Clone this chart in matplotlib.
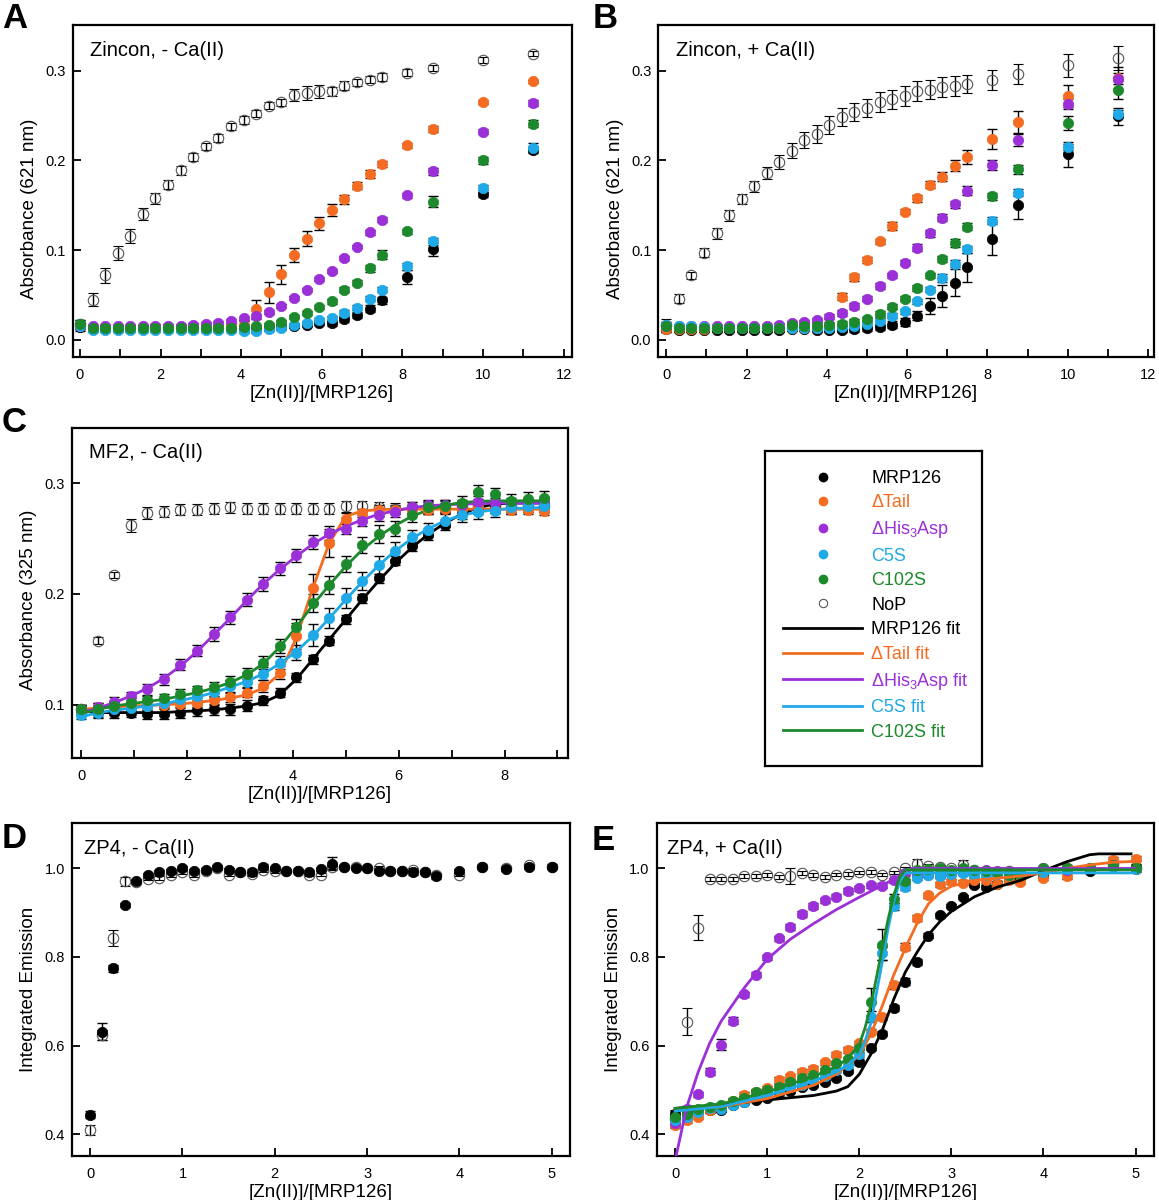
import matplotlib
matplotlib.use('Agg')
import matplotlib.pyplot as plt
from matplotlib.lines import Line2D
from matplotlib.ticker import MultipleLocator, FormatStrFormatter

plt.rcParams['font.family'] = ['Liberation Sans', 'DejaVu Sans']
plt.rcParams['mathtext.fontset'] = 'custom'
plt.rcParams['mathtext.rm'] = 'Liberation Sans'

# ---------------- data ----------------
x_zincon = [0, 0.3125, 0.625, 0.9375, 1.25, 1.5625, 1.875, 2.1875, 2.5, 2.8125, 3.125, 3.4375, 3.75,
            4.0625, 4.375, 4.6875, 5.0, 5.3125, 5.625, 5.9375, 6.25, 6.5625, 6.875, 7.1875, 7.5,
            8.125, 8.75, 10.0, 11.25]
x_mf2 = [0, 0.3125, 0.625, 0.9375, 1.25, 1.5625, 1.875, 2.1875, 2.5, 2.8125, 3.125, 3.4375, 3.75,
         4.0625, 4.375, 4.6875, 5.0, 5.3125, 5.625, 5.9375, 6.25, 6.5625, 6.875, 7.1875, 7.5,
         7.8125, 8.125, 8.4375, 8.75]
x_zp4 = [0, 0.125, 0.25, 0.375, 0.5, 0.625, 0.75, 0.875, 1.0, 1.125, 1.25, 1.375, 1.5, 1.625, 1.75,
         1.875, 2.0, 2.125, 2.25, 2.375, 2.5, 2.625, 2.75, 2.875, 3.0, 3.125, 3.25, 3.375, 3.5,
         3.625, 3.75, 4.0, 4.25, 4.5, 4.75, 5.0]

# panel A: Zincon, - Ca(II)
A_nop = [0.018, 0.045, 0.072, 0.097, 0.116, 0.140, 0.158, 0.173, 0.189, 0.204, 0.216, 0.225, 0.238, 0.245,
         0.252, 0.261, 0.265, 0.273, 0.275, 0.277, 0.277, 0.283, 0.287, 0.290, 0.293, 0.298, 0.303, 0.312, 0.319]
A_nop_err = [0.004, 0.007, 0.008, 0.008, 0.008, 0.0065, 0.006, 0.005, 0.005, 0.0045, 0.004, 0.004, 0.004, 0.004,
             0.004, 0.004, 0.004, 0.007, 0.008, 0.0075, 0.005, 0.005, 0.004, 0.004, 0.004, 0.004, 0.003, 0.003, 0.003]
A_mrp = [0.014, 0.013, 0.013, 0.013, 0.013, 0.013, 0.013, 0.013, 0.013, 0.013, 0.013, 0.013, 0.013, 0.013,
         0.013, 0.013, 0.014, 0.015, 0.017, 0.019, 0.019, 0.023, 0.028, 0.035, 0.044, 0.070, 0.101, 0.163, 0.212]
A_mrp_err = [0.004, 0.002, 0.002, 0.002, 0.002, 0.002, 0.002, 0.002, 0.002, 0.002, 0.002, 0.002, 0.002, 0.002,
             0.002, 0.002, 0.002, 0.002, 0.002, 0.002, 0.003, 0.003, 0.003, 0.004, 0.004, 0.008, 0.007, 0.004, 0.004]
A_tail = [0.016, 0.014, 0.014, 0.014, 0.014, 0.014, 0.014, 0.014, 0.014, 0.014, 0.014, 0.014, 0.015, 0.017,
          0.034, 0.053, 0.073, 0.095, 0.113, 0.130, 0.145, 0.157, 0.172, 0.185, 0.196, 0.217, 0.235, 0.265, 0.288]
A_tail_err = [0.003, 0.002, 0.002, 0.002, 0.002, 0.002, 0.002, 0.002, 0.002, 0.002, 0.002, 0.002, 0.003, 0.004,
              0.011, 0.012, 0.011, 0.008, 0.008, 0.007, 0.007, 0.005, 0.004, 0.004, 0.003, 0.003, 0.003, 0.002, 0.002]
A_his = [0.016, 0.015, 0.015, 0.015, 0.015, 0.015, 0.016, 0.016, 0.016, 0.017, 0.018, 0.019, 0.021, 0.024,
         0.027, 0.031, 0.038, 0.047, 0.056, 0.068, 0.077, 0.091, 0.104, 0.120, 0.134, 0.161, 0.188, 0.232, 0.264]
A_his_err = [0.003, 0.002, 0.002, 0.002, 0.002, 0.002, 0.002, 0.002, 0.002, 0.002, 0.002, 0.002, 0.002, 0.002,
             0.002, 0.002, 0.002, 0.002, 0.002, 0.002, 0.002, 0.002, 0.002, 0.003, 0.003, 0.003, 0.004, 0.003, 0.003]
A_c5s = [0.015, 0.011, 0.011, 0.011, 0.011, 0.011, 0.011, 0.011, 0.011, 0.011, 0.011, 0.011, 0.011, 0.010,
         0.010, 0.012, 0.013, 0.017, 0.019, 0.022, 0.024, 0.030, 0.036, 0.046, 0.056, 0.082, 0.110, 0.169, 0.214]
A_c5s_err = [0.003, 0.002, 0.002, 0.002, 0.002, 0.002, 0.002, 0.002, 0.002, 0.002, 0.002, 0.002, 0.002, 0.002,
             0.002, 0.002, 0.002, 0.002, 0.002, 0.002, 0.003, 0.003, 0.003, 0.003, 0.003, 0.004, 0.004, 0.004, 0.005]
A_c102s = [0.018, 0.013, 0.013, 0.013, 0.013, 0.013, 0.013, 0.013, 0.013, 0.013, 0.013, 0.013, 0.013, 0.014,
           0.015, 0.017, 0.020, 0.026, 0.030, 0.037, 0.043, 0.056, 0.064, 0.080, 0.095, 0.121, 0.154, 0.200, 0.241]
A_c102s_err = [0.004, 0.002, 0.002, 0.002, 0.002, 0.002, 0.002, 0.002, 0.002, 0.002, 0.002, 0.002, 0.002, 0.002,
               0.002, 0.002, 0.002, 0.002, 0.002, 0.002, 0.003, 0.003, 0.003, 0.004, 0.005, 0.003, 0.006, 0.004, 0.004]

# panel B: Zincon, + Ca(II)
B_nop = [0.017, 0.046, 0.072, 0.097, 0.119, 0.139, 0.157, 0.171, 0.186, 0.198, 0.211, 0.223, 0.230, 0.240,
         0.248, 0.254, 0.258, 0.265, 0.268, 0.272, 0.277, 0.279, 0.282, 0.283, 0.285, 0.290, 0.296, 0.306, 0.314]
B_nop_err = [0.006, 0.005, 0.004, 0.005, 0.006, 0.006, 0.006, 0.006, 0.007, 0.008, 0.008, 0.009, 0.010, 0.010,
             0.010, 0.010, 0.010, 0.011, 0.011, 0.011, 0.011, 0.011, 0.011, 0.011, 0.010, 0.011, 0.011, 0.013, 0.013]
B_mrp = [0.012, 0.011, 0.011, 0.011, 0.011, 0.011, 0.011, 0.011, 0.011, 0.011, 0.012, 0.012, 0.011, 0.011,
         0.011, 0.012, 0.013, 0.014, 0.017, 0.020, 0.027, 0.038, 0.049, 0.064, 0.081, 0.113, 0.150, 0.207, 0.249]
B_mrp_err = [0.003, 0.002, 0.002, 0.002, 0.002, 0.002, 0.002, 0.002, 0.002, 0.002, 0.002, 0.002, 0.002, 0.002,
             0.002, 0.003, 0.003, 0.003, 0.004, 0.004, 0.005, 0.009, 0.012, 0.015, 0.016, 0.018, 0.015, 0.014, 0.009]
B_tail = [0.012, 0.012, 0.012, 0.012, 0.013, 0.013, 0.013, 0.013, 0.013, 0.013, 0.013, 0.013, 0.013, 0.015,
          0.048, 0.070, 0.089, 0.110, 0.127, 0.143, 0.158, 0.173, 0.182, 0.194, 0.204, 0.224, 0.243, 0.272, 0.292]
B_tail_err = [0.003, 0.002, 0.002, 0.002, 0.002, 0.002, 0.002, 0.002, 0.002, 0.002, 0.002, 0.002, 0.002, 0.003,
              0.004, 0.004, 0.003, 0.003, 0.004, 0.003, 0.004, 0.004, 0.005, 0.006, 0.008, 0.011, 0.012, 0.012, 0.012]
B_his = [0.015, 0.015, 0.015, 0.015, 0.015, 0.015, 0.015, 0.015, 0.016, 0.017, 0.019, 0.020, 0.022, 0.026,
         0.030, 0.038, 0.046, 0.060, 0.072, 0.086, 0.103, 0.119, 0.136, 0.151, 0.166, 0.195, 0.223, 0.263, 0.291]
B_his_err = [0.003, 0.002, 0.002, 0.002, 0.002, 0.002, 0.002, 0.002, 0.002, 0.002, 0.002, 0.002, 0.002, 0.003,
             0.003, 0.003, 0.003, 0.003, 0.003, 0.003, 0.004, 0.004, 0.004, 0.004, 0.005, 0.006, 0.007, 0.006, 0.006]
B_c5s = [0.017, 0.015, 0.015, 0.014, 0.013, 0.013, 0.013, 0.013, 0.013, 0.013, 0.013, 0.013, 0.013, 0.013,
         0.014, 0.016, 0.018, 0.021, 0.027, 0.032, 0.043, 0.056, 0.069, 0.085, 0.101, 0.133, 0.164, 0.215, 0.252]
B_c5s_err = [0.003, 0.002, 0.002, 0.002, 0.002, 0.002, 0.002, 0.002, 0.002, 0.002, 0.002, 0.002, 0.002, 0.002,
             0.003, 0.003, 0.003, 0.003, 0.003, 0.003, 0.003, 0.003, 0.004, 0.004, 0.004, 0.004, 0.004, 0.003, 0.004]
B_c102s = [0.016, 0.013, 0.013, 0.013, 0.013, 0.013, 0.013, 0.013, 0.013, 0.013, 0.017, 0.016, 0.016, 0.017,
           0.018, 0.020, 0.023, 0.029, 0.037, 0.046, 0.058, 0.072, 0.090, 0.108, 0.126, 0.160, 0.190, 0.242, 0.279]
B_c102s_err = [0.003, 0.002, 0.002, 0.002, 0.002, 0.002, 0.002, 0.002, 0.002, 0.002, 0.003, 0.003, 0.003, 0.003,
               0.003, 0.003, 0.003, 0.003, 0.003, 0.003, 0.003, 0.003, 0.003, 0.004, 0.004, 0.004, 0.005, 0.008, 0.010]

# panel C: MF2, - Ca(II)
C_nop = [0.096, 0.158, 0.217, 0.262, 0.273, 0.274, 0.276, 0.276, 0.277, 0.278, 0.277, 0.277, 0.277, 0.277,
         0.277, 0.277, 0.279, 0.279, 0.278, 0.277, 0.278, 0.278, 0.279, 0.279, 0.279, 0.280, 0.279, 0.279, 0.279]
C_nop_err = [0.004, 0.003, 0.003, 0.006, 0.005, 0.005, 0.005, 0.005, 0.005, 0.005, 0.005, 0.005, 0.005, 0.005,
             0.005, 0.005, 0.005, 0.005, 0.005, 0.005, 0.005, 0.005, 0.005, 0.005, 0.005, 0.005, 0.005, 0.005, 0.005]
C_mrp = [0.095, 0.093, 0.093, 0.093, 0.092, 0.092, 0.093, 0.095, 0.096, 0.096, 0.099, 0.104, 0.111, 0.125,
         0.141, 0.158, 0.177, 0.196, 0.214, 0.230, 0.243, 0.253, 0.262, 0.273, 0.278, 0.279, 0.279, 0.280, 0.280]
C_mrp_err = [0.004, 0.005, 0.005, 0.004, 0.005, 0.005, 0.005, 0.005, 0.005, 0.005, 0.005, 0.004, 0.004, 0.004,
             0.004, 0.004, 0.004, 0.004, 0.004, 0.004, 0.004, 0.004, 0.004, 0.005, 0.006, 0.006, 0.006, 0.006, 0.006]
C_tail = [0.096, 0.098, 0.098, 0.099, 0.099, 0.100, 0.101, 0.102, 0.104, 0.107, 0.111, 0.117, 0.129, 0.162,
          0.205, 0.246, 0.268, 0.273, 0.276, 0.276, 0.276, 0.276, 0.277, 0.277, 0.278, 0.277, 0.276, 0.276, 0.275]
C_tail_err = [0.004, 0.004, 0.004, 0.004, 0.004, 0.004, 0.004, 0.004, 0.004, 0.004, 0.004, 0.005, 0.006, 0.012,
              0.013, 0.013, 0.005, 0.004, 0.004, 0.004, 0.004, 0.004, 0.004, 0.004, 0.004, 0.004, 0.004, 0.004, 0.004]
C_his = [0.096, 0.098, 0.103, 0.108, 0.114, 0.123, 0.136, 0.149, 0.164, 0.179, 0.195, 0.209, 0.223, 0.235,
         0.247, 0.255, 0.259, 0.266, 0.271, 0.274, 0.278, 0.280, 0.280, 0.280, 0.283, 0.282, 0.282, 0.281, 0.282]
C_his_err = [0.004, 0.004, 0.004, 0.004, 0.005, 0.005, 0.005, 0.005, 0.006, 0.006, 0.006, 0.006, 0.006, 0.006,
             0.006, 0.006, 0.005, 0.005, 0.005, 0.005, 0.005, 0.005, 0.005, 0.005, 0.005, 0.005, 0.005, 0.005, 0.005]
C_c5s = [0.091, 0.093, 0.096, 0.097, 0.099, 0.102, 0.105, 0.108, 0.112, 0.117, 0.121, 0.128, 0.138, 0.147,
         0.163, 0.178, 0.196, 0.212, 0.226, 0.239, 0.251, 0.258, 0.266, 0.271, 0.274, 0.275, 0.278, 0.279, 0.279]
C_c5s_err = [0.004, 0.004, 0.004, 0.004, 0.004, 0.004, 0.004, 0.004, 0.005, 0.005, 0.005, 0.006, 0.006, 0.007,
             0.010, 0.009, 0.009, 0.008, 0.008, 0.008, 0.007, 0.006, 0.006, 0.006, 0.006, 0.006, 0.006, 0.005, 0.005]
C_c102s = [0.096, 0.096, 0.099, 0.102, 0.104, 0.106, 0.110, 0.113, 0.116, 0.121, 0.128, 0.138, 0.153, 0.170,
           0.192, 0.208, 0.227, 0.244, 0.254, 0.259, 0.271, 0.278, 0.279, 0.282, 0.292, 0.290, 0.284, 0.286, 0.287]
C_c102s_err = [0.004, 0.004, 0.004, 0.004, 0.004, 0.004, 0.004, 0.004, 0.005, 0.005, 0.005, 0.006, 0.006, 0.007,
               0.008, 0.008, 0.007, 0.007, 0.008, 0.007, 0.006, 0.006, 0.006, 0.006, 0.006, 0.006, 0.006, 0.006, 0.006]
C_mrp_fit = [0.095, 0.093, 0.093, 0.093, 0.093, 0.093, 0.094, 0.0945, 0.0955, 0.097, 0.099, 0.102, 0.109, 0.123,
             0.141, 0.159, 0.177, 0.195, 0.212, 0.228, 0.242, 0.254, 0.264, 0.272, 0.278, 0.281, 0.282, 0.282, 0.282]
C_tail_fit = [0.096, 0.097, 0.098, 0.099, 0.0995, 0.100, 0.101, 0.102, 0.104, 0.106, 0.109, 0.115, 0.128, 0.160,
              0.205, 0.246, 0.270, 0.275, 0.276, 0.2765, 0.2765, 0.2765, 0.2765, 0.2765, 0.2765, 0.2765, 0.2765,
              0.2765, 0.2765]
C_his_fit = [0.093, 0.097, 0.102, 0.108, 0.115, 0.124, 0.135, 0.148, 0.163, 0.178, 0.194, 0.209, 0.222, 0.234,
             0.245, 0.254, 0.261, 0.267, 0.272, 0.275, 0.278, 0.2795, 0.2805, 0.281, 0.2815, 0.282, 0.282, 0.282, 0.282]
C_c5s_fit = [0.089, 0.093, 0.095, 0.097, 0.099, 0.101, 0.104, 0.107, 0.111, 0.116, 0.121, 0.128, 0.137, 0.148,
             0.162, 0.178, 0.195, 0.211, 0.226, 0.239, 0.250, 0.259, 0.266, 0.271, 0.274, 0.276, 0.277, 0.2775, 0.278]
C_c102s_fit = [0.092, 0.096, 0.099, 0.101, 0.103, 0.105, 0.108, 0.111, 0.115, 0.120, 0.127, 0.137, 0.152, 0.170,
               0.190, 0.208, 0.225, 0.240, 0.252, 0.262, 0.270, 0.276, 0.280, 0.2825, 0.2835, 0.284, 0.284, 0.284, 0.284]

# panel D: ZP4, - Ca(II)
D_nop = [0.409, 0.624, 0.843, 0.971, 0.970, 0.977, 0.979, 0.985, 0.991, 0.985, 0.994, 1.000, 0.986, 0.991,
         0.988, 0.996, 0.994, 0.994, 0.994, 0.986, 0.986, 1.004, 1.004, 1.004, 1.001, 1.001, 0.994, 0.994,
         0.997, 0.992, 0.985, 0.986, 1.004, 1.001, 1.007, 1.004]
D_nop_err = [0.011, 0.012, 0.018, 0.010, 0.004, 0.004, 0.004, 0.004, 0.004, 0.004, 0.004, 0.004, 0.004, 0.004,
             0.004, 0.004, 0.004, 0.004, 0.004, 0.004, 0.004, 0.006, 0.004, 0.004, 0.004, 0.004, 0.004, 0.004,
             0.004, 0.004, 0.004, 0.004, 0.004, 0.004, 0.004, 0.004]
D_mrp = [0.444, 0.631, 0.774, 0.917, 0.971, 0.985, 0.991, 0.994, 1.001, 0.994, 0.996, 1.004, 0.996, 0.991,
         0.992, 1.004, 1.000, 0.995, 0.995, 0.991, 0.998, 1.011, 1.004, 1.002, 1.001, 0.994, 0.994, 0.994,
         0.991, 0.992, 0.982, 0.994, 1.004, 0.998, 1.004, 1.004]
D_mrp_err = [0.008, 0.019, 0.008, 0.005, 0.006, 0.004, 0.006, 0.004, 0.004, 0.004, 0.005, 0.004, 0.004, 0.005,
             0.006, 0.006, 0.004, 0.004, 0.004, 0.006, 0.004, 0.014, 0.004, 0.004, 0.004, 0.004, 0.004, 0.004,
             0.005, 0.005, 0.005, 0.005, 0.006, 0.004, 0.005, 0.005]

# panel E: ZP4, + Ca(II)
E_nop = [0.435, 0.654, 0.866, 0.976, 0.976, 0.976, 0.983, 0.983, 0.985, 0.981, 0.983, 0.990, 0.985, 0.981,
         0.986, 0.988, 0.991, 0.992, 0.986, 0.991, 1.000, 1.011, 1.006, 1.004, 1.000, 1.007, 0.996, 0.994,
         0.992, 0.994, 0.988, 0.996, 1.000, 0.998, 1.009, 1.001]
E_nop_err = [0.020, 0.030, 0.028, 0.004, 0.004, 0.004, 0.004, 0.004, 0.004, 0.004, 0.017, 0.004, 0.004, 0.004,
             0.004, 0.004, 0.004, 0.004, 0.004, 0.004, 0.004, 0.010, 0.004, 0.004, 0.004, 0.012, 0.004, 0.004,
             0.004, 0.004, 0.004, 0.004, 0.004, 0.004, 0.004, 0.004]
E_mrp = [0.445, 0.452, 0.454, 0.454, 0.454, 0.466, 0.472, 0.477, 0.481, 0.492, 0.497, 0.507, 0.511, 0.518,
         0.527, 0.542, 0.563, 0.595, 0.627, 0.685, 0.744, 0.789, 0.848, 0.894, 0.915, 0.936, 0.962, 0.958,
         0.966, 0.977, 0.981, 0.986, 0.996, 0.994, 1.007, 1.004]
E_mrp_err = [0.006, 0.005, 0.005, 0.005, 0.005, 0.005, 0.005, 0.005, 0.005, 0.005, 0.005, 0.005, 0.005, 0.005,
             0.005, 0.005, 0.006, 0.006, 0.006, 0.006, 0.008, 0.006, 0.006, 0.005, 0.005, 0.005, 0.005, 0.005,
             0.005, 0.005, 0.005, 0.005, 0.005, 0.005, 0.005, 0.005]
E_tail = [0.420, 0.432, 0.439, 0.454, 0.462, 0.475, 0.488, 0.496, 0.503, 0.522, 0.530, 0.541, 0.548, 0.562,
          0.579, 0.590, 0.605, 0.631, 0.664, 0.736, 0.823, 0.888, 0.939, 0.964, 0.971, 0.968, 0.973, 0.973,
          0.966, 0.973, 0.970, 0.979, 0.983, 1.001, 1.019, 1.022]
E_tail_err = [0.006, 0.006, 0.006, 0.006, 0.006, 0.006, 0.006, 0.006, 0.006, 0.006, 0.006, 0.006, 0.006, 0.006,
              0.006, 0.006, 0.006, 0.006, 0.007, 0.008, 0.008, 0.007, 0.006, 0.006, 0.006, 0.006, 0.006, 0.006,
              0.006, 0.006, 0.006, 0.006, 0.006, 0.006, 0.006, 0.006]
E_his = [0.424, 0.457, 0.490, 0.541, 0.602, 0.656, 0.716, 0.760, 0.799, 0.842, 0.868, 0.897, 0.915, 0.928,
         0.936, 0.949, 0.955, 0.962, 0.961, 0.973, 0.990, 0.986, 0.986, 0.985, 0.992, 0.991, 0.994, 0.996,
         0.994, 0.992, 0.988, 1.000, 0.996, 1.000, 1.007, 0.998]
E_his_err = [0.006, 0.006, 0.006, 0.008, 0.012, 0.008, 0.006, 0.006, 0.006, 0.006, 0.006, 0.006, 0.006, 0.006,
             0.006, 0.006, 0.006, 0.006, 0.006, 0.006, 0.006, 0.006, 0.006, 0.006, 0.006, 0.006, 0.006, 0.006,
             0.006, 0.006, 0.006, 0.006, 0.006, 0.006, 0.006, 0.006]
E_c5s = [0.432, 0.439, 0.450, 0.458, 0.456, 0.465, 0.473, 0.487, 0.488, 0.499, 0.507, 0.511, 0.522, 0.530,
         0.545, 0.557, 0.580, 0.665, 0.808, 0.915, 0.958, 0.979, 0.985, 0.983, 0.988, 0.990, 0.985, 0.986,
         0.988, 0.985, 0.988, 0.993, 0.999, 1.001, 1.003, 0.999]
E_c5s_err = [0.005, 0.005, 0.005, 0.005, 0.005, 0.005, 0.005, 0.005, 0.005, 0.005, 0.005, 0.005, 0.005, 0.005,
             0.005, 0.005, 0.006, 0.012, 0.015, 0.008, 0.006, 0.005, 0.005, 0.005, 0.005, 0.005, 0.005, 0.005,
             0.005, 0.005, 0.005, 0.005, 0.005, 0.005, 0.005, 0.005]
E_c102s = [0.438, 0.445, 0.457, 0.462, 0.465, 0.475, 0.482, 0.494, 0.499, 0.507, 0.518, 0.526, 0.533, 0.545,
           0.560, 0.570, 0.595, 0.699, 0.828, 0.932, 0.971, 0.996, 0.998, 1.000, 0.996, 1.002, 0.996, 0.994,
           0.991, 0.986, 0.986, 1.000, 1.002, 1.002, 1.007, 1.000]
E_c102s_err = [0.005, 0.005, 0.005, 0.005, 0.005, 0.005, 0.005, 0.005, 0.005, 0.005, 0.005, 0.005, 0.005, 0.005,
               0.005, 0.005, 0.006, 0.030, 0.035, 0.010, 0.006, 0.005, 0.005, 0.005, 0.005, 0.005, 0.005, 0.005,
               0.005, 0.005, 0.005, 0.005, 0.005, 0.005, 0.005, 0.005]

# fitted curves in panel E
E_mrp_fit_x = [0, 0.5, 1.0, 1.5, 1.75, 1.875, 2.0, 2.125, 2.25, 2.375, 2.5, 2.625, 2.75, 2.875, 3.0, 3.25, 3.5,
               3.75, 4.0, 4.25, 4.5, 4.6, 4.95]
E_mrp_fit = [0.458, 0.466, 0.477, 0.487, 0.497, 0.507, 0.535, 0.580, 0.635, 0.705, 0.766, 0.810, 0.850, 0.880,
             0.903, 0.936, 0.958, 0.973, 0.995, 1.015, 1.031, 1.033, 1.033]
E_tail_fit_x = [0, 0.5, 1.0, 1.5, 1.75, 2.0, 2.125, 2.25, 2.375, 2.5, 2.625, 2.75, 2.875, 3.0, 3.25, 3.5, 3.75,
                4.0, 4.25, 4.5, 4.75, 5.0]
E_tail_fit = [0.455, 0.462, 0.480, 0.510, 0.535, 0.578, 0.625, 0.690, 0.760, 0.820, 0.875, 0.920, 0.945, 0.960,
              0.973, 0.978, 0.983, 0.990, 1.000, 1.008, 1.014, 1.016]
E_his_fit_x = [0, 0.125, 0.25, 0.375, 0.5, 0.75, 1.0, 1.25, 1.5, 1.75, 2.0, 2.25, 2.5, 2.56, 5.0]
E_his_fit = [0.340, 0.460, 0.540, 0.605, 0.655, 0.730, 0.795, 0.840, 0.875, 0.907, 0.935, 0.962, 0.990, 1.000, 1.000]
E_step_fit_x = [0, 0.5, 1.0, 1.5, 1.75, 1.875, 2.0, 2.0625, 2.125, 2.1875, 2.25, 2.3125, 2.375, 2.4375, 2.5, 5.0]
E_c5s_fit = [0.452, 0.462, 0.487, 0.520, 0.540, 0.556, 0.580, 0.610, 0.650, 0.720, 0.790, 0.865, 0.925, 0.970,
             0.990, 0.990]
E_c102s_fit = [0.458, 0.468, 0.495, 0.530, 0.552, 0.571, 0.602, 0.640, 0.690, 0.755, 0.820, 0.885, 0.940, 0.980,
               0.997, 0.997]

colors = {'mrp': '#000000', 'tail': '#f36c21', 'his': '#9b2fd8', 'c5s': '#1fa9e6', 'c102s': '#1c8a2c'}
labels = {'mrp': 'MRP126', 'tail': '\u0394Tail', 'his': '\u0394His$_\\mathregular{3}$Asp',
          'c5s': 'C5S', 'c102s': 'C102S'}


def add_points(ax, x, y, err, c):
    ax.errorbar(x, y, yerr=err, fmt='none', ecolor='black', elinewidth=1.0,
                capsize=3.5, capthick=1.0, zorder=3)
    ax.plot(x, y, 'o', ms=7.5, mfc=c, mec=c, mew=0.5, ls='none', zorder=4)


def add_nop(ax, x, y, err):
    ax.errorbar(x, y, yerr=err, fmt='o', ms=7.5, mfc='none', mec='#555555', mew=0.8,
                ecolor='black', elinewidth=1.0, capsize=3.5, capthick=1.0, zorder=3.5)


def style_axes(ax, xlim, ylim, xmaj, xmin, ymaj, yfmt, title, ylabel, ylab_y):
    ax.set_xlim(*xlim)
    ax.set_ylim(*ylim)
    ax.xaxis.set_major_locator(MultipleLocator(xmaj))
    if xmin:
        ax.xaxis.set_minor_locator(MultipleLocator(xmin))
    ax.yaxis.set_major_locator(MultipleLocator(ymaj))
    ax.yaxis.set_major_formatter(FormatStrFormatter(yfmt))
    ax.tick_params(which='both', direction='in', width=1.3, labelsize=10.5)
    ax.tick_params(which='major', length=6)
    ax.tick_params(which='minor', length=6)
    ax.tick_params(axis='x', pad=8)
    ax.tick_params(axis='y', pad=5)
    for s in ax.spines.values():
        s.set_linewidth(1.6)
    ax.text(0.035, 0.907, title, transform=ax.transAxes, fontsize=14.5, va='baseline')
    ax.set_xlabel('[Zn(II)]/[MRP126]', fontsize=13.5)
    ax.set_ylabel(ylabel, fontsize=13.5)
    ax.xaxis.set_label_coords(0.5, -0.084)
    ax.yaxis.set_label_coords(-0.069, ylab_y)


fig = plt.figure(figsize=(11.59, 12.0), dpi=100)
axA = fig.add_axes([0.0627, 0.7025, 0.4305, 0.2767])
axB = fig.add_axes([0.5680, 0.7025, 0.4277, 0.2767])
axC = fig.add_axes([0.0619, 0.3683, 0.4282, 0.2753])
axD = fig.add_axes([0.0619, 0.0369, 0.4300, 0.2770])
axE = fig.add_axes([0.5666, 0.0369, 0.4291, 0.2770])

# A
add_nop(axA, x_zincon, A_nop, A_nop_err)
for key, y, e in [('mrp', A_mrp, A_mrp_err), ('tail', A_tail, A_tail_err), ('his', A_his, A_his_err),
                  ('c5s', A_c5s, A_c5s_err), ('c102s', A_c102s, A_c102s_err)]:
    add_points(axA, x_zincon, y, e, colors[key])
style_axes(axA, (-0.18, 12.2), (-0.019, 0.351), 2, 1, 0.1, '%.1f', 'Zincon, - Ca(II)',
           'Absorbance (621 nm)', 0.446)

# B
add_nop(axB, x_zincon, B_nop, B_nop_err)
for key, y, e in [('mrp', B_mrp, B_mrp_err), ('tail', B_tail, B_tail_err), ('his', B_his, B_his_err),
                  ('c5s', B_c5s, B_c5s_err), ('c102s', B_c102s, B_c102s_err)]:
    add_points(axB, x_zincon, y, e, colors[key])
style_axes(axB, (-0.2, 12.15), (-0.019, 0.351), 2, 1, 0.1, '%.1f', 'Zincon, + Ca(II)',
           'Absorbance (621 nm)', 0.446)

# C
add_nop(axC, x_mf2, C_nop, C_nop_err)
for key, f in [('mrp', C_mrp_fit), ('tail', C_tail_fit), ('his', C_his_fit),
               ('c5s', C_c5s_fit), ('c102s', C_c102s_fit)]:
    axC.plot(x_mf2, f, '-', color=colors[key], lw=2.0, zorder=3.8)
for key, y, e in [('mrp', C_mrp, C_mrp_err), ('tail', C_tail, C_tail_err), ('his', C_his, C_his_err),
                  ('c5s', C_c5s, C_c5s_err), ('c102s', C_c102s, C_c102s_err)]:
    add_points(axC, x_mf2, y, e, colors[key])
style_axes(axC, (-0.18, 9.2), (0.052, 0.35), 2, 1, 0.1, '%.1f', 'MF2, - Ca(II)',
           'Absorbance (325 nm)', 0.48)

# D
add_nop(axD, x_zp4, D_nop, D_nop_err)
add_points(axD, x_zp4, D_mrp, D_mrp_err, colors['mrp'])
style_axes(axD, (-0.2, 5.2), (0.351, 1.102), 1, None, 0.2, '%.1f', 'ZP4, - Ca(II)',
           'Integrated Emission', 0.5)

# E
add_nop(axE, x_zp4, E_nop, E_nop_err)
for key, y, e in [('mrp', E_mrp, E_mrp_err), ('tail', E_tail, E_tail_err), ('his', E_his, E_his_err),
                  ('c5s', E_c5s, E_c5s_err), ('c102s', E_c102s, E_c102s_err)]:
    add_points(axE, x_zp4, y, e, colors[key])
for key, fx, fy in [('mrp', E_mrp_fit_x, E_mrp_fit), ('tail', E_tail_fit_x, E_tail_fit),
                    ('his', E_his_fit_x, E_his_fit), ('c5s', E_step_fit_x, E_c5s_fit),
                    ('c102s', E_step_fit_x, E_c102s_fit)]:
    axE.plot(fx, fy, '-', color=colors[key], lw=2.0, zorder=4.5)
style_axes(axE, (-0.2, 5.2), (0.351, 1.102), 1, None, 0.2, '%.1f', 'ZP4, + Ca(II)',
           'Integrated Emission', 0.5)
axD.texts[0].set_x(0.025)
axE.texts[0].set_x(0.02)

# legend box
axL = fig.add_axes([765 / 1159, 1 - 766 / 1200, 217 / 1159, 315 / 1200])
axL.set_xticks([])
axL.set_yticks([])
for s in axL.spines.values():
    s.set_linewidth(1.6)
handles = []
names = []
text_colors = []
for key in ['mrp', 'tail', 'his', 'c5s', 'c102s']:
    handles.append(Line2D([], [], marker='o', ls='none', ms=6, mfc=colors[key], mec=colors[key]))
    names.append(labels[key])
    text_colors.append(colors[key])
handles.append(Line2D([], [], marker='o', ls='none', ms=6, mfc='none', mec='#555555', mew=0.8))
names.append('NoP')
text_colors.append('black')
for key in ['mrp', 'tail', 'his', 'c5s', 'c102s']:
    handles.append(Line2D([], [], color=colors[key], lw=2.0))
    names.append(labels[key] + ' fit')
    text_colors.append(colors[key])
axL.legend(handles, names, loc='upper left', bbox_to_anchor=(0.083, 0.94), frameon=False,
           fontsize=13, handlelength=4.4, handletextpad=0.5, labelspacing=0.42, borderpad=0,
           borderaxespad=0, labelcolor=text_colors)

# panel letters
for letter, px, py in [('A', 2, 28), ('B', 593, 28), ('C', 2, 432), ('D', 2, 848), ('E', 592, 850)]:
    fig.text(px / 1159, 1 - py / 1200, letter, fontsize=25, fontweight='bold', va='baseline', ha='left')

fig.savefig('out.png', dpi=100)
